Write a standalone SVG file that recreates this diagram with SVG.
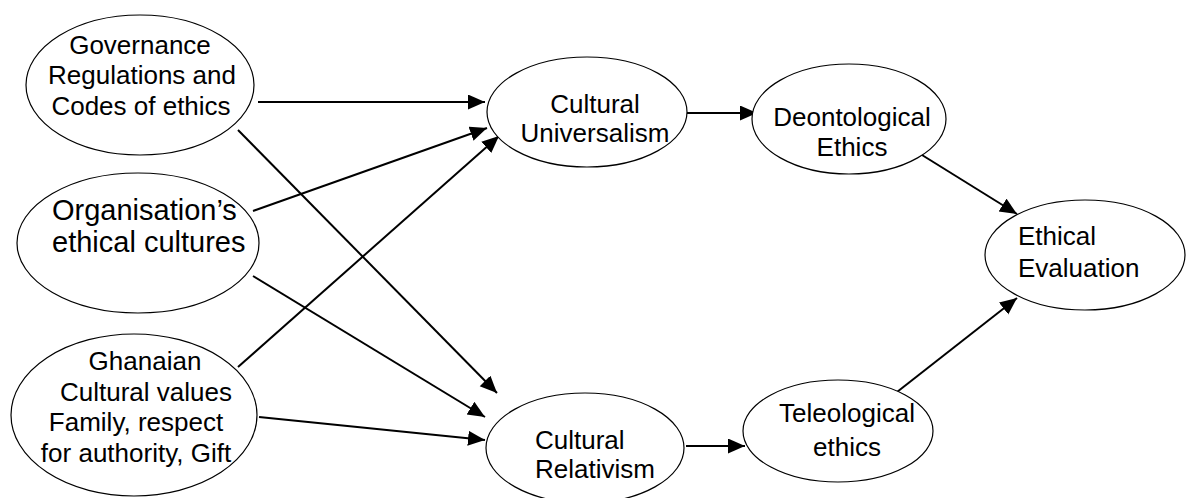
<svg xmlns="http://www.w3.org/2000/svg" width="1192" height="498" viewBox="0 0 1192 498">
<style>
.n{fill:#fff;stroke:#000;stroke-width:1.2}
.t{font-family:"Liberation Sans",Arial,sans-serif;font-size:26px;fill:#000}
.c{text-anchor:middle}
.e{stroke:#000;stroke-width:2;fill:none;marker-end:url(#ah)}
</style>
<defs>
<marker id="ah" markerUnits="userSpaceOnUse" markerWidth="18" markerHeight="16" refX="17" refY="7.5" orient="auto">
<path d="M0,0 L17,7.5 L0,15 z" fill="#000"/>
</marker>
</defs>
<rect width="1192" height="498" fill="#fff"/>
<g id="connectors">
<line class="e" x1="258" y1="102" x2="485" y2="102"/>
<line class="e" x1="238" y1="130" x2="497" y2="393"/>
<line class="e" x1="253" y1="211" x2="487" y2="128"/>
<line class="e" x1="253" y1="276" x2="485" y2="417"/>
<line class="e" x1="238" y1="367" x2="499" y2="136"/>
<line class="e" x1="259" y1="417" x2="485" y2="440"/>
<line class="e" x1="687" y1="113" x2="757" y2="113"/>
<line class="e" x1="922" y1="155" x2="1017" y2="214"/>
<line class="e" x1="686" y1="446" x2="745" y2="446"/>
<line class="e" x1="897" y1="392" x2="1017" y2="298"/>
</g>
<g id="governance">
<ellipse class="n" cx="140" cy="85" rx="114" ry="70"/>
<text class="t c" x="140" y="54">Governance</text>
<text class="t c" x="142" y="84">Regulations and</text>
<text class="t c" x="141" y="115">Codes of ethics</text>
</g>
<g id="organisation">
<ellipse class="n" cx="138" cy="243" rx="121" ry="70"/>
<text class="t" x="52" y="220" style="font-size:29px">Organisation’s</text>
<text class="t" x="52" y="252" style="font-size:29px">ethical cultures</text>
</g>
<g id="ghanaian">
<ellipse class="n" cx="134" cy="415" rx="123" ry="81"/>
<text class="t c" x="145" y="370">Ghanaian</text>
<text class="t c" x="146" y="401">Cultural values</text>
<text class="t c" x="136" y="431">Family, respect</text>
<text class="t c" x="136" y="462">for authority, Gift</text>
</g>
<g id="universalism">
<ellipse class="n" cx="587" cy="112" rx="100" ry="55"/>
<text class="t c" x="595" y="113">Cultural</text>
<text class="t c" x="595" y="142">Universalism</text>
</g>
<g id="deontological">
<ellipse class="n" cx="849" cy="119" rx="97" ry="55"/>
<text class="t c" x="852" y="126">Deontological</text>
<text class="t c" x="852" y="156">Ethics</text>
</g>
<g id="relativism">
<ellipse class="n" cx="585" cy="448" rx="99" ry="55"/>
<text class="t" x="535" y="449">Cultural</text>
<text class="t" x="535" y="478">Relativism</text>
</g>
<g id="teleological">
<ellipse class="n" cx="838" cy="431" rx="95" ry="51"/>
<text class="t c" x="847" y="422">Teleological</text>
<text class="t c" x="847" y="456">ethics</text>
</g>
<g id="evaluation">
<ellipse class="n" cx="1085" cy="255" rx="100" ry="55"/>
<text class="t" x="1018" y="245">Ethical</text>
<text class="t" x="1018" y="277">Evaluation</text>
</g>
</svg>
